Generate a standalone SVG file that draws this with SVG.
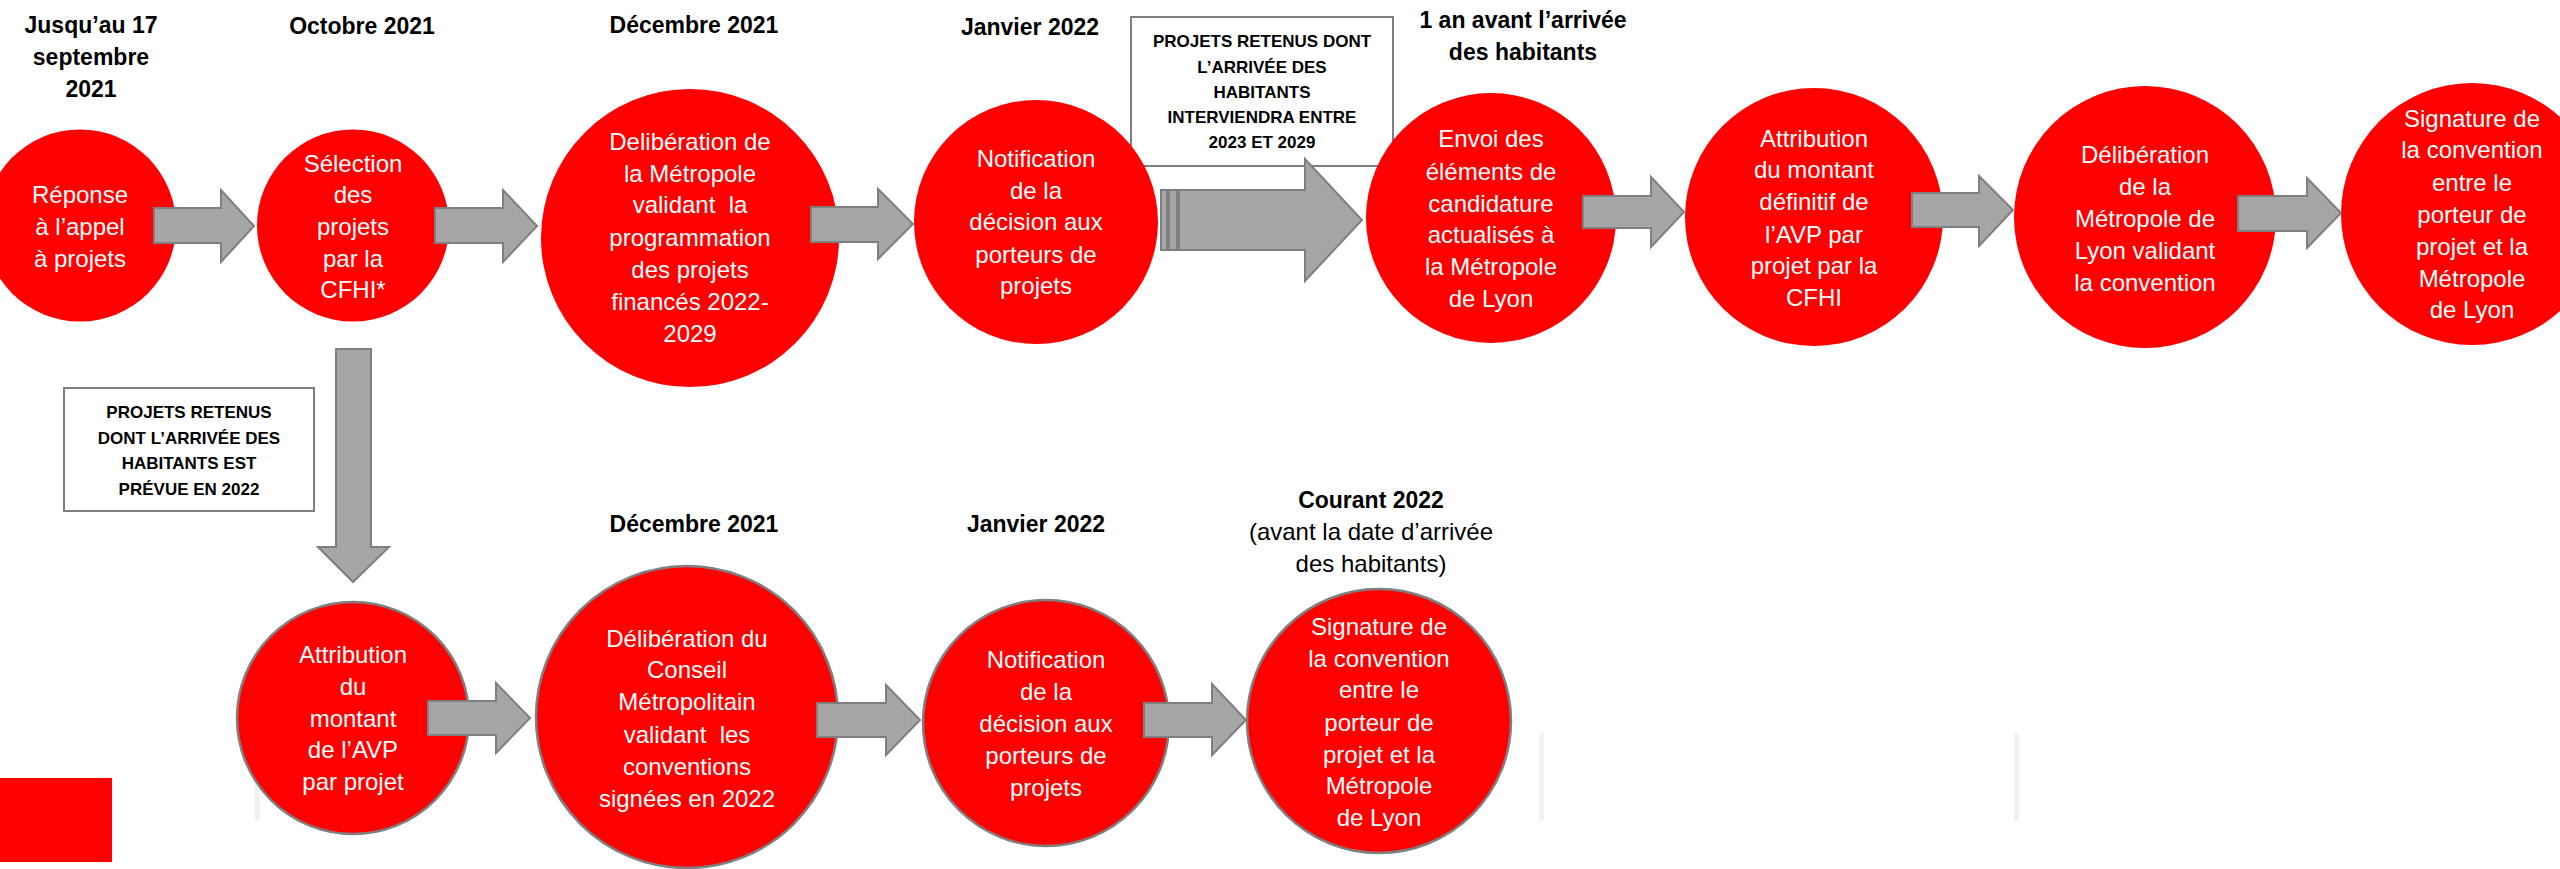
<svg xmlns="http://www.w3.org/2000/svg" width="2560" height="869" viewBox="0 0 2560 869">
<style>
.hd{font-family:"Liberation Sans",Arial,sans-serif;font-size:23px;font-weight:bold;fill:#000;text-anchor:middle}
.hr{font-family:"Liberation Sans",Arial,sans-serif;font-size:24px;fill:#000;text-anchor:middle}
.bx{font-family:"Liberation Sans",Arial,sans-serif;font-size:17px;font-weight:bold;fill:#000;text-anchor:middle}
.ct{font-family:"Liberation Sans",Arial,sans-serif;font-size:24px;fill:#fff;text-anchor:middle}
.c{fill:#ff0000}
.cs{fill:#ff0000;stroke:#7f7f7f;stroke-width:2.5}
.box{fill:#fff;stroke:#7f7f7f;stroke-width:2}
.ar{fill:#a6a6a6;stroke:#7f7f7f;stroke-width:2;stroke-linejoin:miter}
.fl{fill:#f2f2f2}
</style>
<rect width="2560" height="869" fill="#fff"/>

<!-- faint background bars -->
<rect class="fl" x="255" y="733" width="5" height="88"/>
<rect class="fl" x="1539" y="733" width="5" height="88"/>
<rect class="fl" x="2014" y="733" width="5" height="88"/>

<!-- red legend square -->
<rect x="0" y="778" width="112" height="84" fill="#ff0000"/>

<!-- headers -->
<g id="headers">
<text class="hd" x="91" y="33">Jusqu’au 17</text>
<text class="hd" x="91" y="65">septembre</text>
<text class="hd" x="91" y="97">2021</text>
<text class="hd" x="362" y="34">Octobre 2021</text>
<text class="hd" x="694" y="33">Décembre 2021</text>
<text class="hd" x="1030" y="35">Janvier 2022</text>
<text class="hd" x="1523" y="28">1 an avant l’arrivée</text>
<text class="hd" x="1523" y="60">des habitants</text>
<text class="hd" x="694" y="532">Décembre 2021</text>
<text class="hd" x="1036" y="532">Janvier 2022</text>
<text class="hd" x="1371" y="508">Courant 2022</text>
<text class="hr" x="1371" y="540">(avant la date d’arrivée</text>
<text class="hr" x="1371" y="572">des habitants)</text>
</g>

<!-- boxes -->
<g id="box-2023-2029">
<rect class="box" x="1131" y="17" width="262" height="149"/>
<text class="bx" x="1262" y="47">PROJETS RETENUS DONT</text>
<text class="bx" x="1262" y="73">L’ARRIVÉE DES</text>
<text class="bx" x="1262" y="98">HABITANTS</text>
<text class="bx" x="1262" y="123">INTERVIENDRA ENTRE</text>
<text class="bx" x="1262" y="148">2023 ET 2029</text>
</g>
<g id="box-2022">
<rect class="box" x="64" y="388" width="250" height="123"/>
<text class="bx" x="189" y="418">PROJETS RETENUS</text>
<text class="bx" x="189" y="444">DONT L’ARRIVÉE DES</text>
<text class="bx" x="189" y="469">HABITANTS EST</text>
<text class="bx" x="189" y="495">PRÉVUE EN 2022</text>
</g>

<!-- top row nodes -->
<g id="n1">
<circle class="c" cx="80" cy="225.5" r="96"/>
<text class="ct" x="80" y="203">Réponse</text>
<text class="ct" x="80" y="235">à l’appel</text>
<text class="ct" x="80" y="267">à projets</text>
</g>
<g id="n2">
<circle class="c" cx="353" cy="225.5" r="96"/>
<text class="ct" x="353" y="172">Sélection</text>
<text class="ct" x="353" y="203">des</text>
<text class="ct" x="353" y="235">projets</text>
<text class="ct" x="353" y="267">par la</text>
<text class="ct" x="353" y="298">CFHI*</text>
</g>
<g id="n3">
<circle class="c" cx="690" cy="238" r="149"/>
<text class="ct" x="690" y="150">Delibération de</text>
<text class="ct" x="690" y="182">la Métropole</text>
<text class="ct" x="690" y="213">validant&#160; la</text>
<text class="ct" x="690" y="246">programmation</text>
<text class="ct" x="690" y="278">des projets</text>
<text class="ct" x="690" y="310">financés 2022-</text>
<text class="ct" x="690" y="342">2029</text>
</g>
<g id="n4">
<circle class="c" cx="1036" cy="222" r="122"/>
<text class="ct" x="1036" y="167">Notification</text>
<text class="ct" x="1036" y="199">de la</text>
<text class="ct" x="1036" y="230">décision aux</text>
<text class="ct" x="1036" y="263">porteurs de</text>
<text class="ct" x="1036" y="294">projets</text>
</g>
<g id="n5">
<circle class="c" cx="1491" cy="218" r="125"/>
<text class="ct" x="1491" y="147">Envoi des</text>
<text class="ct" x="1491" y="180">éléments de</text>
<text class="ct" x="1491" y="212">candidature</text>
<text class="ct" x="1491" y="243">actualisés à</text>
<text class="ct" x="1491" y="275">la Métropole</text>
<text class="ct" x="1491" y="307">de Lyon</text>
</g>
<g id="n6">
<circle class="c" cx="1814" cy="217" r="129"/>
<text class="ct" x="1814" y="147">Attribution</text>
<text class="ct" x="1814" y="178">du montant</text>
<text class="ct" x="1814" y="210">définitif de</text>
<text class="ct" x="1814" y="243">l’AVP par</text>
<text class="ct" x="1814" y="274">projet par la</text>
<text class="ct" x="1814" y="306">CFHI</text>
</g>
<g id="n7">
<circle class="c" cx="2145" cy="217" r="131"/>
<text class="ct" x="2145" y="163">Délibération</text>
<text class="ct" x="2145" y="195">de la</text>
<text class="ct" x="2145" y="227">Métropole de</text>
<text class="ct" x="2145" y="259">Lyon validant</text>
<text class="ct" x="2145" y="291">la convention</text>
</g>
<g id="n8">
<circle class="c" cx="2472" cy="214" r="131"/>
<text class="ct" x="2472" y="127">Signature de</text>
<text class="ct" x="2472" y="158">la convention</text>
<text class="ct" x="2472" y="191">entre le</text>
<text class="ct" x="2472" y="223">porteur de</text>
<text class="ct" x="2472" y="255">projet et la</text>
<text class="ct" x="2472" y="287">Métropole</text>
<text class="ct" x="2472" y="318">de Lyon</text>
</g>

<!-- bottom row nodes -->
<g id="b1">
<circle class="cs" cx="353" cy="718" r="116"/>
<text class="ct" x="353" y="663">Attribution</text>
<text class="ct" x="353" y="695">du</text>
<text class="ct" x="353" y="727">montant</text>
<text class="ct" x="353" y="758">de l’AVP</text>
<text class="ct" x="353" y="790">par projet</text>
</g>
<g id="b2">
<circle class="cs" cx="687" cy="717" r="151"/>
<text class="ct" x="687" y="647">Délibération du</text>
<text class="ct" x="687" y="678">Conseil</text>
<text class="ct" x="687" y="710">Métropolitain</text>
<text class="ct" x="687" y="743">validant&#160; les</text>
<text class="ct" x="687" y="775">conventions</text>
<text class="ct" x="687" y="807">signées en 2022</text>
</g>
<g id="b3">
<circle class="cs" cx="1046" cy="723" r="123"/>
<text class="ct" x="1046" y="668">Notification</text>
<text class="ct" x="1046" y="700">de la</text>
<text class="ct" x="1046" y="732">décision aux</text>
<text class="ct" x="1046" y="764">porteurs de</text>
<text class="ct" x="1046" y="796">projets</text>
</g>
<g id="b4">
<circle class="cs" cx="1379" cy="721" r="132"/>
<text class="ct" x="1379" y="635">Signature de</text>
<text class="ct" x="1379" y="667">la convention</text>
<text class="ct" x="1379" y="698">entre le</text>
<text class="ct" x="1379" y="731">porteur de</text>
<text class="ct" x="1379" y="763">projet et la</text>
<text class="ct" x="1379" y="794">Métropole</text>
<text class="ct" x="1379" y="826">de Lyon</text>
</g>

<!-- connectors -->
<g id="connectors">
<polygon class="ar" points="154,208 221,208 221,190 254,226 221,262 221,243 154,243"/>
<polygon class="ar" points="435,208 503,208 503,190 537,226 503,262 503,243 435,243"/>
<polygon class="ar" points="811,207 878,207 878,189 913,224 878,259 878,242 811,242"/>
<rect class="ar" x="1161" y="190" width="6" height="60"/>
<rect class="ar" x="1169" y="190" width="8" height="60"/>
<polygon class="ar" points="1179,190 1305,190 1305,159 1362,220 1305,281 1305,250 1179,250"/>
<polygon class="ar" points="1583,196 1651,196 1651,177 1684,212 1651,247 1651,228 1583,228"/>
<polygon class="ar" points="1912,193 1979,193 1979,176 2013,210 1979,246 1979,227 1912,227"/>
<polygon class="ar" points="2238,196 2307,196 2307,178 2341,213 2307,248 2307,231 2238,231"/>
<polygon class="ar" points="336,349 371,349 371,547 389,547 353,582 318,547 336,547"/>
<polygon class="ar" points="428,701 496,701 496,683 530,718 496,753 496,735 428,735"/>
<polygon class="ar" points="817,703 886,703 886,685 920,720 886,755 886,737 817,737"/>
<polygon class="ar" points="1144,703 1212,703 1212,684 1246,720 1212,755 1212,737 1144,737"/>
</g>
</svg>
